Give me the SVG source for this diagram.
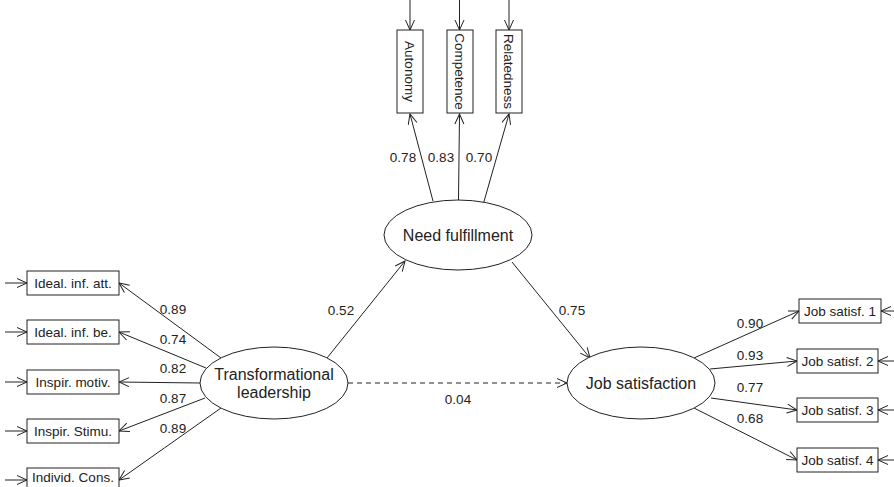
<svg xmlns="http://www.w3.org/2000/svg" width="894" height="487" viewBox="0 0 894 487">
<style>
text{font-family:"Liberation Sans",Arial,sans-serif;fill:#222;}
.lbl{font-size:13.5px;}
.big{font-size:16px;}
.box{fill:#fff;stroke:#222;stroke-width:1;}
.ell{fill:#fff;stroke:#222;stroke-width:1;}
.c{stroke:#222;stroke-width:1;fill:none;marker-end:url(#ah);}
.d{stroke-dasharray:5,4;}
</style>
<defs>
<marker id="ah" markerUnits="userSpaceOnUse" markerWidth="12" markerHeight="12" refX="11" refY="5" orient="auto">
<path d="M1,0.5 L11,5 L1,9.5" fill="none" stroke="#222" stroke-width="1"/>
</marker>
</defs>
<rect width="894" height="487" fill="#fff"/>
<g id="connectors">
<line class="c" x1="410" y1="0" x2="410" y2="30"/>
<line class="c" x1="459.5" y1="0" x2="459.5" y2="30"/>
<line class="c" x1="509" y1="0" x2="509" y2="30"/>
<line class="c" x1="433" y1="201" x2="410" y2="114"/>
<line class="c" x1="458.5" y1="200" x2="459.5" y2="114"/>
<line class="c" x1="483" y1="205" x2="509" y2="114"/>
<line class="c" x1="5" y1="283" x2="27" y2="283"/>
<line class="c" x1="5" y1="332" x2="27" y2="332"/>
<line class="c" x1="5" y1="382" x2="27" y2="382"/>
<line class="c" x1="5" y1="431" x2="27" y2="431"/>
<line class="c" x1="5" y1="480" x2="27" y2="480"/>
<line class="c" x1="221" y1="358" x2="119" y2="283"/>
<line class="c" x1="206" y1="368" x2="119" y2="332"/>
<line class="c" x1="200" y1="383" x2="119" y2="382"/>
<line class="c" x1="205" y1="398" x2="119" y2="431"/>
<line class="c" x1="221" y1="408" x2="119" y2="480"/>
<line class="c" x1="327" y1="358" x2="405" y2="261"/>
<line class="c" x1="512" y1="262" x2="590" y2="358"/>
<line class="c d" x1="348" y1="383" x2="567" y2="383"/>
<line class="c" x1="694" y1="358" x2="799" y2="311"/>
<line class="c" x1="710" y1="369" x2="797" y2="361"/>
<line class="c" x1="711" y1="398" x2="797" y2="410"/>
<line class="c" x1="694" y1="408" x2="797" y2="460"/>
<line class="c" x1="894" y1="311" x2="881" y2="311"/>
<line class="c" x1="894" y1="361" x2="878" y2="361"/>
<line class="c" x1="894" y1="410" x2="878" y2="410"/>
<line class="c" x1="894" y1="460" x2="878" y2="460"/>
</g>
<g id="labels">
<text class="lbl" x="403" y="162" text-anchor="middle">0.78</text>
<text class="lbl" x="441" y="162" text-anchor="middle">0.83</text>
<text class="lbl" x="479" y="162" text-anchor="middle">0.70</text>
<text class="lbl" x="173" y="314" text-anchor="middle">0.89</text>
<text class="lbl" x="173" y="344" text-anchor="middle">0.74</text>
<text class="lbl" x="173" y="373" text-anchor="middle">0.82</text>
<text class="lbl" x="173" y="403" text-anchor="middle">0.87</text>
<text class="lbl" x="173" y="433" text-anchor="middle">0.89</text>
<text class="lbl" x="341" y="315" text-anchor="middle">0.52</text>
<text class="lbl" x="572" y="315" text-anchor="middle">0.75</text>
<text class="lbl" x="458" y="404" text-anchor="middle">0.04</text>
<text class="lbl" x="750" y="328" text-anchor="middle">0.90</text>
<text class="lbl" x="750" y="360" text-anchor="middle">0.93</text>
<text class="lbl" x="750" y="392" text-anchor="middle">0.77</text>
<text class="lbl" x="750" y="423" text-anchor="middle">0.68</text>
</g>
<g id="autonomy"><rect class="box" x="397" y="30" width="26" height="83"/><text class="lbl" transform="translate(405,71.5) rotate(90)" text-anchor="middle">Autonomy</text></g>
<g id="competence"><rect class="box" x="447" y="30" width="26" height="83"/><text class="lbl" transform="translate(455,71.5) rotate(90)" text-anchor="middle">Competence</text></g>
<g id="relatedness"><rect class="box" x="496" y="30" width="26" height="83"/><text class="lbl" transform="translate(504,71.5) rotate(90)" text-anchor="middle">Relatedness</text></g>
<g id="need"><ellipse class="ell" cx="458" cy="235" rx="74" ry="35"/><text class="big" x="458" y="241" text-anchor="middle">Need fulfillment</text></g>
<g id="tl"><ellipse class="ell" cx="274" cy="383" rx="74" ry="36"/><text class="big" x="274" y="380" text-anchor="middle">Transformational</text><text class="big" x="274" y="398" text-anchor="middle">leadership</text></g>
<g id="js"><ellipse class="ell" cx="641" cy="383" rx="74" ry="36"/><text class="big" x="641" y="389" text-anchor="middle">Job satisfaction</text></g>
<g id="ia"><rect class="box" x="27" y="271" width="92" height="24"/><text class="lbl" x="73" y="288" text-anchor="middle">Ideal. inf. att.</text></g>
<g id="ib"><rect class="box" x="27" y="320" width="92" height="24"/><text class="lbl" x="73" y="337" text-anchor="middle">Ideal. inf. be.</text></g>
<g id="im"><rect class="box" x="27" y="370" width="92" height="24"/><text class="lbl" x="73" y="387" text-anchor="middle">Inspir. motiv.</text></g>
<g id="is"><rect class="box" x="27" y="419" width="92" height="24"/><text class="lbl" x="73" y="436" text-anchor="middle">Inspir. Stimu.</text></g>
<g id="ic"><rect class="box" x="27" y="468" width="92" height="24"/><text class="lbl" x="73" y="482" text-anchor="middle">Individ. Cons.</text></g>
<g id="j1"><rect class="box" x="799" y="299" width="82" height="24"/><text class="lbl" x="840" y="316" text-anchor="middle">Job satisf. 1</text></g>
<g id="j2"><rect class="box" x="797" y="349" width="81" height="24"/><text class="lbl" x="837.5" y="366" text-anchor="middle">Job satisf. 2</text></g>
<g id="j3"><rect class="box" x="797" y="398" width="81" height="24"/><text class="lbl" x="837.5" y="415" text-anchor="middle">Job satisf. 3</text></g>
<g id="j4"><rect class="box" x="797" y="448" width="81" height="24"/><text class="lbl" x="837.5" y="465" text-anchor="middle">Job satisf. 4</text></g>
</svg>
